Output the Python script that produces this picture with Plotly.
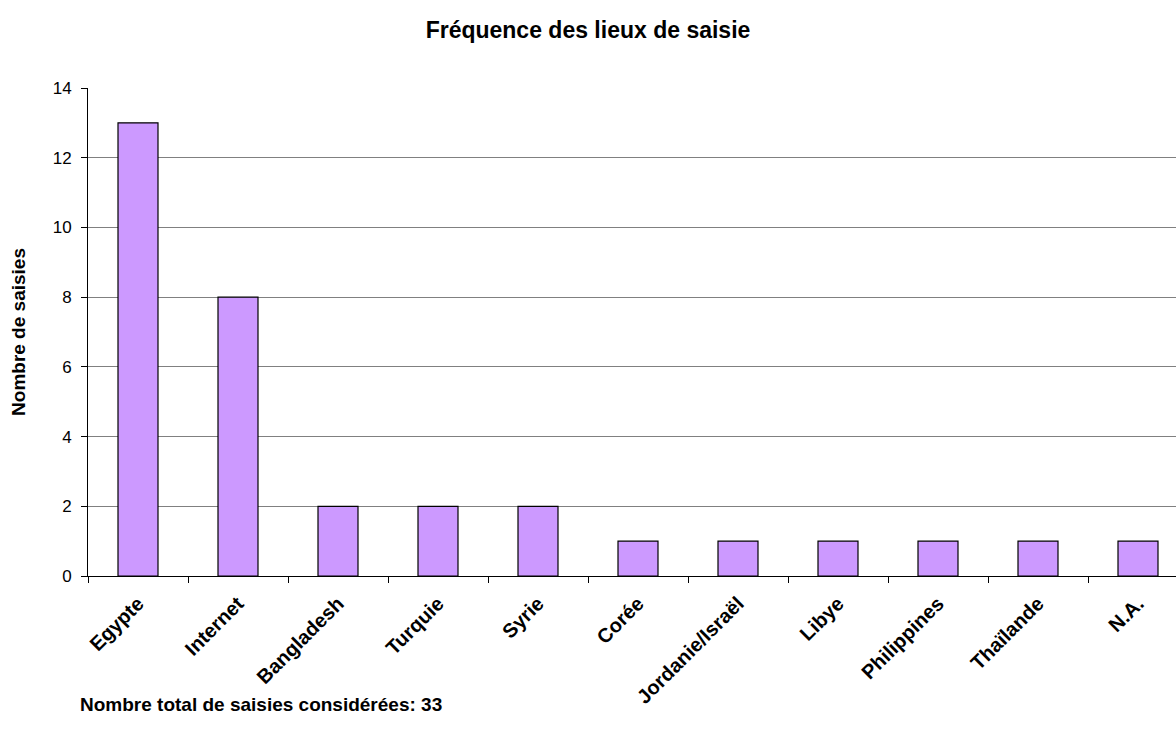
import plotly.graph_objects as go

lieux = ["Egypte", "Internet", "Bangladesh", "Turquie", "Syrie", "Corée",
         "Jordanie/Israël", "Libye", "Philippines", "Thaïlande", "N.A."]
saisies = [13, 8, 2, 2, 2, 1, 1, 1, 1, 1, 1]
total = sum(saisies)

FONT = "Liberation Sans, Arial, sans-serif"

fig = go.Figure(
    go.Bar(
        x=lieux,
        y=saisies,
        width=0.4,
        marker=dict(color="#CC99FF", line=dict(color="#000000", width=1.2)),
    )
)

fig.update_layout(
    width=1176,
    height=740,
    margin=dict(l=88, r=0, t=88, b=164),
    paper_bgcolor="white",
    plot_bgcolor="white",
    showlegend=False,
    font=dict(family=FONT, color="black", size=17),
    title=dict(
        text="<b>Fréquence des lieux de saisie</b>",
        x=0.5, xref="container", xanchor="center",
        y=1 - 30 / 740, yanchor="middle",
        font=dict(family=FONT, size=23, color="black"),
    ),
    bargap=0.6,
)

fig.update_xaxes(
    type="category",
    range=[-0.5, 10.38],
    tickson="boundaries",
    ticks="outside",
    ticklen=6,
    tickcolor="black",
    tickangle=-45,
    ticklabelstandoff=7,
    tickfont=dict(family=FONT, size=20, color="black", weight="bold"),
    showline=True,
    linecolor="black",
    linewidth=1,
    showgrid=False,
)

fig.update_yaxes(
    range=[0, 14],
    dtick=2,
    ticks="outside",
    ticklen=6,
    tickcolor="black",
    ticklabelstandoff=6,
    tickfont=dict(family=FONT, size=17, color="black"),
    showline=True,
    linecolor="black",
    linewidth=1,
    showgrid=True,
    gridcolor="#808080",
    gridwidth=1,
    zeroline=False,
    title=dict(text="<b>Nombre de saisies</b>", font=dict(family=FONT, size=19), standoff=22),
)

fig.add_annotation(
    text=f"<b>Nombre total de saisies considérées: {total}</b>",
    xref="paper", yref="paper",
    x=-10 / 1088, y=-(704 - 576) / 488,
    xanchor="left", yanchor="middle",
    showarrow=False,
    font=dict(family=FONT, size=19, color="black"),
)

fig.write_html("out.html")
